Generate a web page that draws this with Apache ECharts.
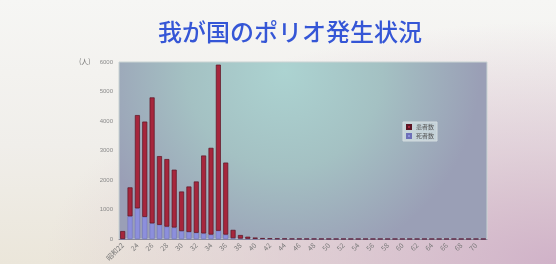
<!DOCTYPE html>
<html><head><meta charset="utf-8">
<script src="https://cdn.jsdelivr.net/npm/echarts@6/dist/echarts.min.js"></script>
<style>
html,body{margin:0;padding:0;width:556px;height:264px;overflow:hidden;}
body{background:radial-gradient(ellipse at 100% 100%, rgba(208,178,200,1) 0%, rgba(214,188,206,0.6) 30%, rgba(230,215,225,0) 65%), linear-gradient(180deg,#f6f6f4 0%,#f0eeea 55%,#ebe6da 100%);}
#c{width:556px;height:264px;filter:blur(0.4px);}
</style></head><body><div id="c"></div>
<script>
// Categories: 昭和22年 (1947) onward, one per year
const years = ["昭和22","23","24","25","26","27","28","29","30","31","32","33","34","35","36","37","38","39","40","41","42","43","44","45","46","47","48","49","50","51","52","53","54","55","56","57","58","59","60","61","62","63","64","65","66","67","68","69","70","71"];
// Lower (blue) segment
const deaths = [0,770,1040,750,530,480,420,390,270,240,210,190,150,280,150,30,15,8,5,3,2,1,1,0,0,0,0,0,0,0,0,0,0,0,0,0,0,0,0,0,0,0,0,0,0,0,0,0,0,0];
// Upper (red) segment
const patients = [270,980,3160,3230,4270,2330,2290,1960,1340,1540,1740,2640,2940,5630,2440,280,120,70,45,30,20,15,10,8,6,5,4,3,3,2,2,2,1,1,1,1,1,1,1,1,1,1,1,1,1,1,1,1,1,1];
const yTicks = [0,1000,2000,3000,4000,5000,6000];
const legendNames = ["患者数","死者数"];

const chart = echarts.init(document.getElementById('c'), null, {renderer:'canvas'});
chart.setOption({
  animation:false,
  title:{text:"我が国のポリオ発生状況",left:285,top:15,textAlign:'center',
    textStyle:{color:'#3556d6',fontSize:24,fontWeight:500,fontFamily:'"Noto Sans CJK JP"'}},
  graphic:[{type:'text',left:79,top:58,style:{text:'(人)',fill:'#777',fontSize:7,fontFamily:'"Noto Sans CJK JP"'}}],
  grid:{left:119,right:69,top:62,bottom:21,show:true,borderColor:'#c9d3d3',borderWidth:1,
    backgroundColor:{type:'radial',x:0.45,y:0.05,r:1.1,colorStops:[{offset:0,color:'#acd3d1'},{offset:0.5,color:'#a4c1c3'},{offset:1,color:'#9a9fb6'}]}},
  legend:{data:legendNames,orient:'vertical',left:403,top:122,itemWidth:4,itemHeight:4,itemGap:3,padding:[2,3],icon:'rect',
    backgroundColor:'rgba(214,226,230,0.7)',borderColor:'#d4dcdf',borderWidth:1,
    textStyle:{fontSize:6,color:'#555',fontFamily:'"Noto Sans CJK JP"'}},
  xAxis:{type:'category',data:years,
    axisLine:{lineStyle:{color:'#8a8a9a'}},axisTick:{show:false},
    axisLabel:{interval:1,rotate:45,fontSize:7,color:'#777',margin:5,fontFamily:'"Noto Sans CJK JP"'}},
  yAxis:{type:'value',min:0,max:6000,interval:1000,
    axisLine:{show:false},axisTick:{show:false},splitLine:{show:false},
    axisLabel:{fontSize:6,color:'#8a8a8a',margin:6,formatter:v=>yTicks.includes(v)?String(v):''}},
  series:[
    {name:legendNames[1],type:'bar',stack:'s',data:deaths,barCategoryGap:'32%',
      itemStyle:{color:'#8c8fdc',borderColor:'#6c6fb8',borderWidth:0.5}},
    {name:legendNames[0],type:'bar',stack:'s',data:patients,barCategoryGap:'32%',
      itemStyle:{color:'#a6263c',borderColor:'#5c1424',borderWidth:0.7}}
  ]
});
</script></body></html>
